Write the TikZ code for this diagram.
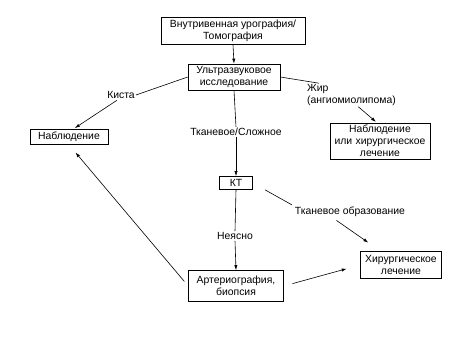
\documentclass[tikz,border=0pt]{standalone}
\usepackage{fontspec}
\setmainfont{Liberation Sans}
\usetikzlibrary{positioning,arrows.meta,calc}

\begin{document}
\begin{tikzpicture}[x=1pt,y=-1pt,font=\fontsize{10.4}{11.8}\selectfont]
\tikzset{
  stepbox/.style={draw, line width=0.6pt, align=center, inner sep=2.5pt},
  lbl/.style={inner sep=1pt, align=center},
  ln/.style={line width=0.6pt},
  arr/.style={ln, -{Latex[length=5pt,width=3.2pt]}},
}
\useasboundingbox (0,0) rectangle (469,351);

% ---- boxes ----
\node[stepbox, minimum width=144, minimum height=27] (ivu) at (233,31)
  {Внутривенная урография/\\Томография};
\node[stepbox, minimum width=92, minimum height=26] (us) at (234,77)
  {Ультразвуковое\\исследование};
\node[stepbox, minimum width=78, minimum height=15] (obs) at (69,137) {Наблюдение};
\node[stepbox, minimum width=100, minimum height=30, text width=94] (obssurg) at (380,141)
  {Наблюдение\\или хирургическое\\лечение};
\node[stepbox, minimum width=33, minimum height=13, inner sep=1.5pt] (kt) at (236,183) {КТ};
\node[stepbox, minimum width=95, minimum height=31] (art) at (236,286)
  {Артериография,\\биопсия};
\node[stepbox, minimum width=81, minimum height=27] (surg) at (401,265)
  {Хирургическое\\лечение};

% ---- branch labels ----
\node[lbl] (cyst) at (121,95) {Киста};
\node[lbl, align=left, anchor=west] (fat) at (306,95) {Жир\\(ангиомиолипома)};
\node[lbl] (tiss) at (236,132) {Тканевое/Сложное};
\node[lbl] (tumor) at (350,212) {Тканевое образование};
\node[lbl] (unclear) at (235,236) {Неясно};

% ---- connectors ----
\draw[arr] (ivu.south) -- (us.north);
\draw[ln] (us.west) -- (cyst.east);
\draw[arr, shorten <=1pt, shorten >=2pt] (cyst.235) -- (obs.62);
\draw[ln] (us.east) -- (fat.160);
\draw[arr, shorten >=1pt] ($(fat.south)!0.15!(fat.south east)$) -- (obssurg.100);
\draw[ln] (us.south) -- (tiss.north);
\draw[arr] (tiss.south) -- (kt.north);
\draw[ln, shorten <=14pt, shorten >=2pt] (kt.east) -- (tumor.north west);
\draw[arr, shorten <=4pt, shorten >=15pt]
  ($(tumor.south)!0.3!(tumor.south west)$) -- ($(surg.north)!0.5!(surg.north west)$);
\draw[ln] (kt.south) -- (unclear.north);
\draw[arr] (unclear.south) -- (art.north);
\draw[arr, shorten <=9pt, shorten >=14pt] (art.east) -- (surg.west);
\draw[arr, shorten <=6pt, shorten >=10pt] (art.west) -- (obs.south);
\end{tikzpicture}
\end{document}
